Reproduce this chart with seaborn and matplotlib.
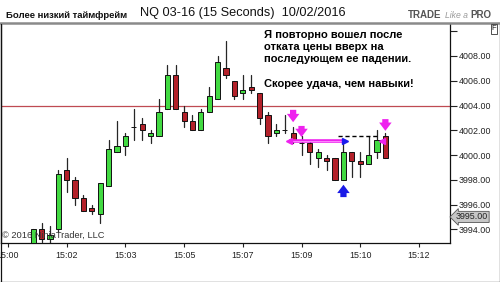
import numpy as np
import pandas as pd
import matplotlib
matplotlib.use("Agg")
import matplotlib.pyplot as plt
import matplotlib.transforms as mtransforms
import seaborn as sns

# ---------------- data ----------------
bar_index = list(range(3, 46))
opens = [3992.5, 3994.0, 3993.25, 3994.0, 3998.75, 3998.0, 3996.5, 3995.75, 3995.25, 3997.5,
         4000.25, 4000.75, 4002.25, 4002.5, 4001.5, 4001.5, 4003.75, 4006.5, 4003.5, 4002.75,
         4002.0, 4003.5, 4004.5, 4007.0, 4006.0, 4005.0, 4005.5, 4005.0, 4003.25, 4001.75,
         4002.0, 4001.75, 4001.0, 4001.0, 3999.75, 3999.75, 3999.75, 3998.0, 4000.25, 3999.5,
         3999.25, 4000.25, 4001.5]
highs = [3994.0, 3994.5, 3994.25, 3998.75, 3999.75, 3998.25, 3996.75, 3996.0, 3997.75, 4001.25,
         4002.75, 4001.75, 4003.75, 4003.0, 4002.0, 4004.5, 4007.25, 4007.25, 4004.0, 4003.25,
         4003.75, 4005.5, 4008.0, 4009.25, 4006.0, 4006.5, 4006.5, 4005.0, 4003.5, 4002.5,
         4003.25, 4002.25, 4001.5, 4001.25, 4000.5, 4000.0, 3999.75, 4001.0, 4000.25, 4000.25,
         4001.5, 4002.0, 4001.75]
lows = [3992.0, 3993.0, 3992.75, 3993.75, 3997.0, 3996.0, 3995.5, 3995.25, 3994.5, 3997.5,
        4000.25, 4000.0, 4001.25, 4001.25, 4001.0, 4001.5, 4003.75, 4003.75, 4002.25, 4002.0,
        4002.0, 4003.5, 4004.5, 4006.25, 4004.5, 4004.5, 4005.0, 4002.5, 4001.0, 4001.5,
        4001.75, 4001.0, 4000.0, 3999.25, 3999.0, 3998.75, 3998.0, 3998.0, 3998.25, 3998.25,
        3999.25, 3999.75, 3999.75]
closes = [3994.0, 3993.25, 3993.5, 3998.5, 3998.0, 3996.5, 3995.5, 3995.5, 3997.75, 4000.5,
          4000.75, 4001.5, 4002.25, 4002.0, 4001.75, 4003.5, 4006.5, 4003.75, 4002.75, 4002.0,
          4003.5, 4004.75, 4007.5, 4006.5, 4004.75, 4005.25, 4005.25, 4003.0, 4001.5, 4002.0,
          4002.0, 4001.25, 4001.0, 4000.25, 4000.25, 3999.5, 3998.0, 4000.25, 3999.5, 3999.25,
          4000.0, 4001.25, 3999.75]

tick_pos = [0, 7, 14, 21, 28, 35, 42, 49]
tick_labels = ["15:00", "15:02", "15:03", "15:05", "15:07", "15:09", "15:10", "15:12"]
price_ticks = [3994, 3996, 3998, 4000, 4002, 4004, 4006, 4008, 4010]

level_line = 4004.0
last_price = 3995.0
pink_line_bars = [33.5, 40.2]
pink_line_price = 4001.1
dash_line_bars = [39.35, 44.1]
dash_line_price = 4001.5
down_arrow_bars = [34, 35, 45]
down_arrow_tail = [4003.65, 4002.35, 4002.9]
down_arrow_tip = [4002.65, 4001.45, 4001.95]
up_arrow_bar = 40
up_arrow_tail = 3996.6
up_arrow_tip = 3997.6

title_text = "NQ 03-16 (15 Seconds)  10/02/2016"
left_header = "Более низкий таймфрейм"
note_lines = ["Я повторно вошел после", "отката цены вверх на",
              "последующем ее падении.", "", "Скорее удача, чем навыки!"]
copyright_text = "© 2016 NinjaTrader, LLC"

# ---------------- figure ----------------
sns.set_style("white")
plt.rcParams["font.family"] = ["Liberation Sans", "DejaVu Sans"]

W, H = 500, 282
fig = plt.figure(figsize=(W / 100, H / 100), dpi=100)

def fx(px):
    return px / W

def fy(py):
    return 1 - py / H

ax = fig.add_axes([fx(1), fy(243), fx(450) - fx(1), fy(24) - fy(243)])

GREEN = "#42da42"
RED = "#b3212a"

# wicks via seaborn
rows = []
for k, i in enumerate(bar_index):
    rows.append({"bar": i, "x": i, "price": lows[k]})
    rows.append({"bar": i, "x": i, "price": highs[k]})
wick_df = pd.DataFrame(rows)
sns.lineplot(data=wick_df, x="x", y="price", units="bar", estimator=None,
             color="#262626", lw=0.9, legend=False, ax=ax, zorder=2)

# bodies
bottoms = [min(o, c) for o, c in zip(opens, closes)]
heights = [abs(c - o) for o, c in zip(opens, closes)]
colors = [GREEN if c > o else (RED if c < o else "#202020") for o, c in zip(opens, closes)]
ax.bar(bar_index, heights, bottom=bottoms, width=0.62, color=colors,
       edgecolor="#111111", linewidth=0.7, zorder=3)

# horizontal level
ax.axhline(level_line, color="#bf4a52", lw=0.9, zorder=1)

# pink horizontal line with end markers
ax.plot(pink_line_bars, [pink_line_price] * 2, color="#ee22ee", lw=2.6, zorder=5,
        solid_capstyle="butt")
ax.plot(pink_line_bars, [pink_line_price] * 2, color="#ff99ff", lw=0.6, zorder=6)
ax.plot([pink_line_bars[0]], [pink_line_price], marker="<", ms=5, color="#ee22ee", zorder=6)
ax.plot([pink_line_bars[1]], [pink_line_price], marker=">", ms=5, color="#1a1aee", zorder=6)
ax.plot([44.6], [pink_line_price], marker="<", ms=4.5, color="#ee22ee", zorder=6)

# dashed black line
ax.plot(dash_line_bars, [dash_line_price] * 2, color="black", lw=1.0,
        dashes=(3, 2), zorder=4)

# arrows
for b, t0, t1 in zip(down_arrow_bars, down_arrow_tail, down_arrow_tip):
    ax.annotate("", xy=(b, t1), xytext=(b, t0),
                arrowprops=dict(arrowstyle="simple,head_width=0.9,head_length=0.6,tail_width=0.45",
                                color="#ee22ee", lw=0, shrinkA=0, shrinkB=0), zorder=7)
ax.annotate("", xy=(up_arrow_bar, up_arrow_tip), xytext=(up_arrow_bar, up_arrow_tail),
            arrowprops=dict(arrowstyle="simple,head_width=0.9,head_length=0.6,tail_width=0.45",
                            color="#1a1ae6", lw=0, shrinkA=0, shrinkB=0), zorder=7)

# axes limits and ticks
x_per_px = 1 / 8.386
ax.set_xlim((1 - 8) * x_per_px, (450 - 8) * x_per_px)
ppx = 12.38
ax.set_ylim(4004 - (243 - 105.5) / ppx, 4004 + (105.5 - 24) / ppx)

ax.set_xticks(tick_pos)
ax.set_xticklabels(tick_labels)
ax.yaxis.tick_right()
ax.set_yticks(price_ticks)
ax.set_yticklabels([f"{p:.2f}" if p != 4010 else "" for p in price_ticks])
ax.tick_params(axis="y", direction="out", length=5, width=0.8, pad=1,
               labelsize=6.4, colors="#222222", right=True, left=False)
ax.tick_params(axis="x", direction="out", length=3, width=0.8, pad=3,
               labelsize=6.4, colors="#222222", bottom=True)
ax.set_xlabel("")
ax.set_ylabel("")
for s in ["left", "bottom", "right"]:
    ax.spines[s].set_visible(True)
    ax.spines[s].set_color("#111111")
    ax.spines[s].set_linewidth(0.9)
ax.spines["top"].set_visible(False)

# last price marker
trans = mtransforms.blended_transform_factory(ax.transAxes, ax.transData)
ax.text(1.013, last_price, f"{last_price:.2f}", transform=trans, ha="left", va="center",
        fontsize=6.4, color="#222222", zorder=10, clip_on=False,
        bbox=dict(boxstyle="larrow,pad=0.12", fc="#c6c6c6", ec="#555555", lw=0.6))

# copyright
ax.text(0.003, 0.012, copyright_text, transform=ax.transAxes, ha="left", va="bottom",
        fontsize=6.7, color="#333333", zorder=10)

# note text
baselines = [37.5, 50.0, 62.5, 75.0, 87.0]
for line, b in zip(note_lines, baselines):
    if line:
        fig.text(fx(264), fy(b), line, ha="left", va="baseline", fontsize=8.0,
                 fontweight="bold", color="black")

# header
fig.text(fx(6), fy(18), left_header, ha="left", va="baseline", fontsize=6.8,
         fontweight="bold", color="#111111")
fig.text(fx(140), fy(16), title_text, ha="left", va="baseline", fontsize=9.2,
         color="#111111")
fig.text(fx(408), fy(18), "TRADE", ha="left", va="baseline", fontsize=7,
         fontweight="bold", color="#555555")
fig.text(fx(445), fy(18), "Like a", ha="left", va="baseline", fontsize=6.2,
         style="italic", color="#9a9a9a")
fig.text(fx(470), fy(18), "PRO", ha="left", va="baseline", fontsize=7,
         fontweight="bold", color="#555555")

# frame lines
fig.add_artist(plt.Line2D([0, 1], [fy(23), fy(23)], color="#8a8a8a", lw=1.8))
fig.add_artist(plt.Line2D([fx(0.5), fx(0.5)], [fy(24), fy(281.5)], color="#111111", lw=0.9))
fig.add_artist(plt.Line2D([fx(499.5), fx(499.5)], [fy(24), fy(281.5)], color="#111111", lw=0.9))
fig.add_artist(plt.Line2D([0, 1], [fy(281.5), fy(281.5)], color="#111111", lw=0.9))
fig.text(fx(494), fy(29), "F", ha="center", va="center", fontsize=5.5, color="#111111",
         bbox=dict(boxstyle="square,pad=0.15", fc="white", ec="#333333", lw=0.6))

fig.savefig("out.png", dpi=100)
